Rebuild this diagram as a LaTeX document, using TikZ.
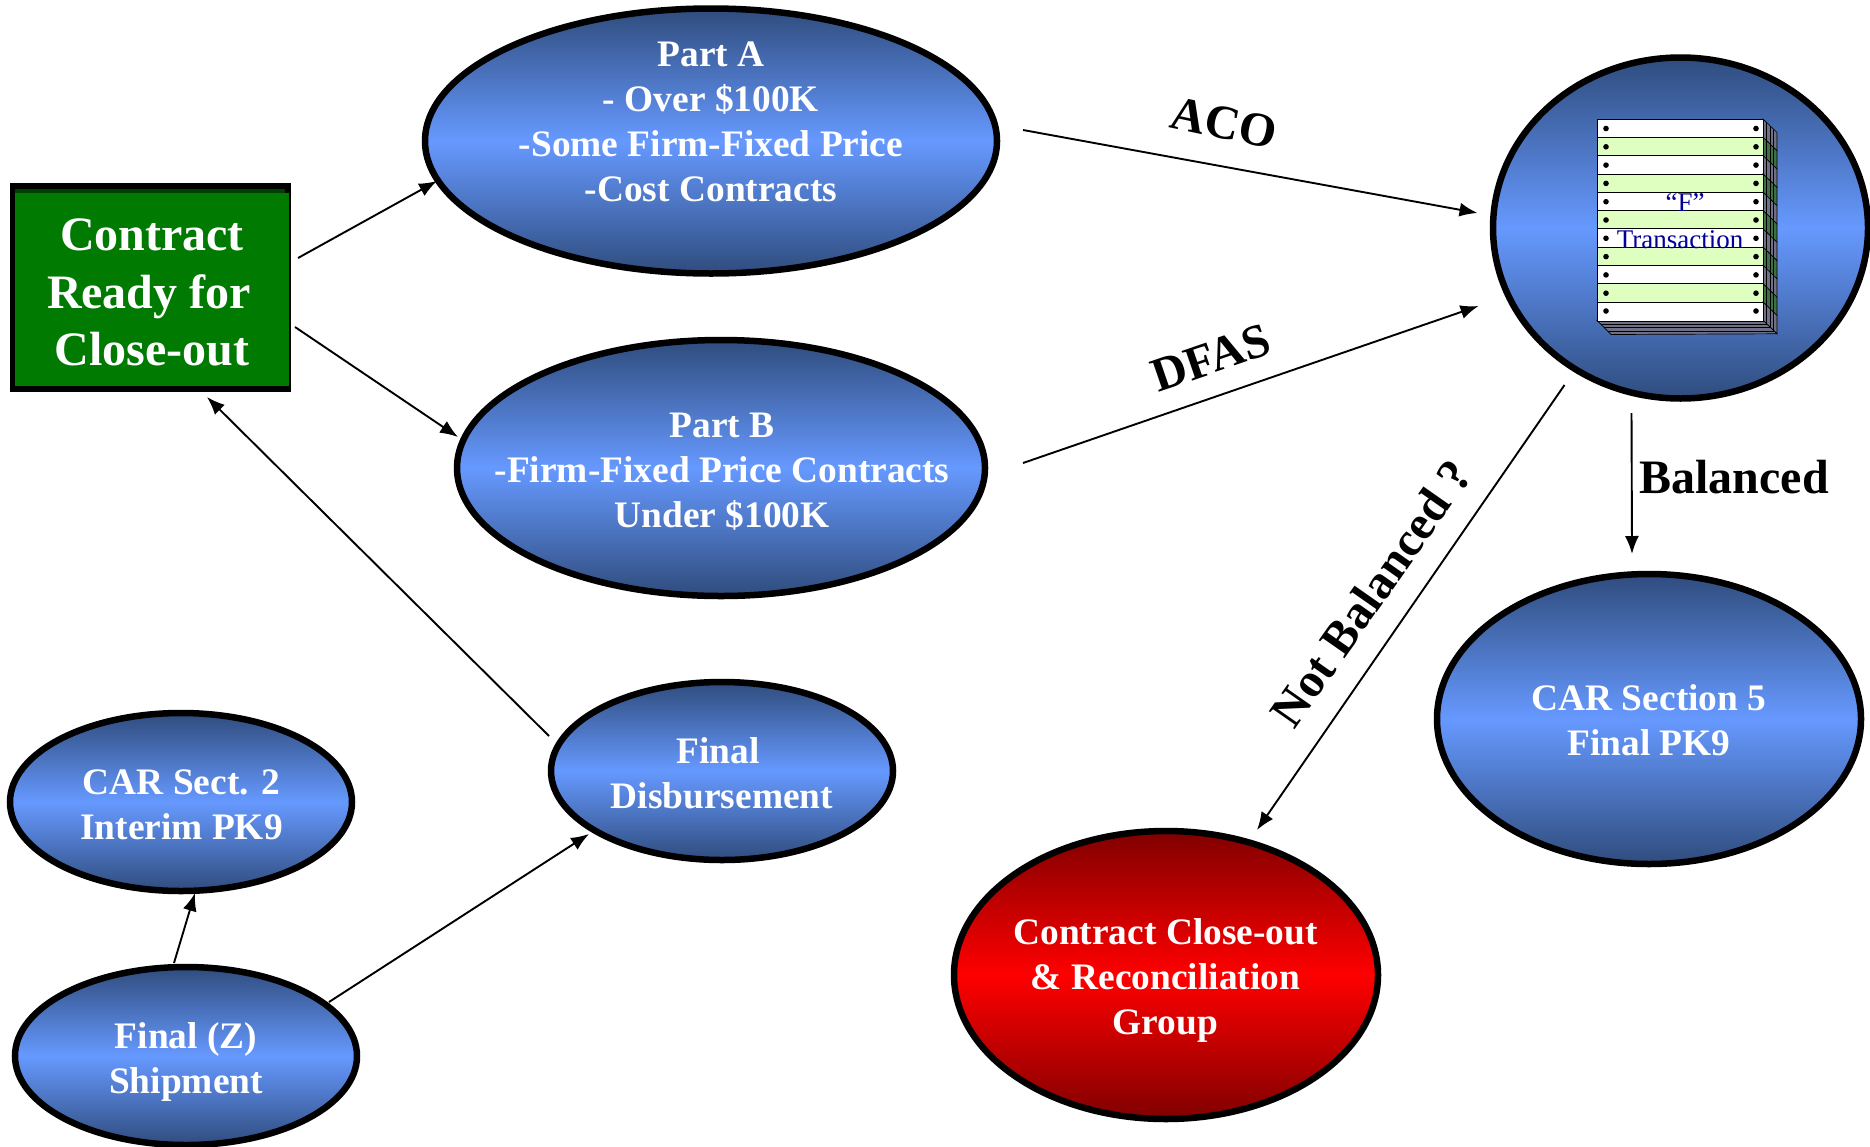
\documentclass[tikz,border=0pt]{standalone}
\usepackage{fontspec}
\setmainfont{Liberation Serif}
\usetikzlibrary{shapes.geometric,arrows.meta,calc}
\definecolor{ovalEdge}{HTML}{2F4C7D}
\definecolor{ovalMid}{HTML}{6699FF}
\definecolor{redEdge}{HTML}{800000}
\definecolor{boxGreen}{HTML}{007A00}
\definecolor{boxDark}{HTML}{004000}
\definecolor{paperGreen}{HTML}{DFFFC0}
\definecolor{sideGrey}{HTML}{6F6F85}
\definecolor{sideGreen}{HTML}{3F7045}
\definecolor{inkBlue}{HTML}{000099}
\tikzset{
 oval/.style={ellipse,draw=black,line width=6.5pt,inner sep=0pt,top color=ovalEdge,bottom color=ovalEdge,middle color=ovalMid},
 redoval/.style={oval,top color=redEdge,bottom color=redEdge,middle color=red},
 lbl/.style={text=white,align=center,inner sep=0pt,font=\fontsize{37.4}{45}\selectfont\bfseries},
 biglbl/.style={text=white,align=center,inner sep=0pt,font=\fontsize{48}{57.5}\selectfont\bfseries},
 edgelbl/.style={text=black,inner sep=0pt,font=\fontsize{48}{55}\selectfont\bfseries},
 conn/.style={draw=black,line width=1.9pt,-{Latex[length=18pt,width=14pt]}},
 tiny/.style={text=inkBlue,inner sep=0pt,font=\fontsize{27}{30}\selectfont},
}
\begin{document}
\begin{tikzpicture}[x=1pt,y=-1pt]
\useasboundingbox (0,0) rectangle (1870,1146);
\clip (0,0) rectangle (1870,1146);
% green box
\node[rectangle,draw=none,fill=black,minimum width=281pt,minimum height=209pt,inner sep=0pt] (green) at (150.5,287.5) {};
\fill[boxDark] (15,189) rectangle (285,194);
\fill[boxGreen] (15,193) rectangle (289,386);
\node[biglbl] (greentext) at (149,292.5) {\hspace*{6pt}Contract\\Ready for\hspace*{6pt}\\\hspace*{6pt}Close-out};
% ovals
\node[oval,minimum width=572pt,minimum height=265pt] (partA) at (711,141) {};
\node[lbl] (partAtext) at (711,121.5) {Part A\\- Over \$100K\\-Some Firm-Fixed Price\\-Cost Contracts};
\node[oval,minimum width=528pt,minimum height=256pt] (partB) at (721,468) {};
\node[lbl] (partBtext) at (722,471.5) {Part B\\-Firm-Fixed Price Contracts\\Under \$100K};
\node[oval,minimum width=375pt,minimum height=341pt] (ftrans) at (1680.5,228) {};
\node[oval,minimum width=424pt,minimum height=290pt] (sec5) at (1649,719) {};
\node[lbl] (sec5text) at (1649,720) {CAR Section 5\\Final PK9};
\node[redoval,minimum width=424pt,minimum height=288pt] (recon) at (1166,975) {};
\node[lbl] (recontext) at (1165.5,980) {Contract Close-out\\\&\ Reconciliation\\Group};
\node[oval,minimum width=342pt,minimum height=178pt] (disb) at (722,771) {};
\node[lbl] (disbtext) at (722,773) {Final\hspace*{8pt}\\Disbursement};
\node[oval,minimum width=342pt,minimum height=178pt] (sect2) at (181,802) {};
\node[lbl] (sect2text) at (181.5,804.5) {CAR Sect. 2\\Interim PK9};
\node[oval,minimum width=342pt,minimum height=178pt] (zship) at (186,1056) {};
\node[lbl] (zshiptext) at (186,1062) {Final (Z)\\Shipment};
% paper stack
\foreach \i in {0,...,10}{
  \pgfmathsetmacro{\ya}{119+\i*18.3}
  \pgfmathsetmacro{\yb}{\ya+18.3}
  \pgfmathtruncatemacro{\odd}{mod(\i,2)}
  \ifnum\odd=1
    \def\stripc{paperGreen}\def\sidec{sideGreen}
  \else
    \def\stripc{white}\def\sidec{sideGrey}
  \fi
  \filldraw[fill=\sidec,draw=black,line width=0.6pt] (1763,\ya) -- (1777,\ya+13.5) -- (1777,\yb+13.5) -- (1763,\yb) -- cycle;
  \filldraw[fill=\stripc,draw=black,line width=0.8pt] (1597,\ya) rectangle (1763,\yb);
  \fill[black] (1606,\ya+9.5) circle (2.8);
  \fill[black] (1756,\ya+9.5) circle (2.8);
}
\filldraw[fill=sideGrey,draw=black,line width=0.7pt] (1597,320.3) -- (1763,320.3) -- (1777,333.8) -- (1611,334.5) -- cycle;
\foreach \d in {3.5,7,10.5}{
  \draw[black,line width=0.5pt] (1597+\d,320.3+\d) -- (1763+\d,320.3+\d) -- (1763+\d,119+\d);
}
\filldraw[fill=white,draw=black,line width=0.8pt] (1597,302) rectangle (1763,321);
\fill[black] (1606,311) circle (2.8);
\fill[black] (1756,311) circle (2.8);
\node[tiny] (ftext) at (1685,203) {“F”};
\node[tiny] (ttext) at (1680,240) {Transaction};
% connectors
\draw[conn] ($(green)+(147.5,-29.5)$) -- ($(partA)+(-274,40)$);
\draw[conn] ($(green)+(144.5,39.5)$) -- ($(partB)+(-263,-31)$);
\draw[conn] ($(partA)+(312,-11)$) -- ($(ftrans)+(-203,-15)$);
\draw[conn] ($(partB)+(302,-5)$) -- ($(ftrans)+(-202,78)$);
\draw[conn] ($(ftrans)+(-116,157)$) -- ($(recon)+(91,-145)$);
\draw[conn] ($(ftrans)+(-49,185)$) -- ($(sec5)+(-17,-165)$);
\draw[conn] ($(disb)+(-173,-35)$) -- ($(green)+(56.5,109.5)$);
\draw[conn] ($(zship)+(-12,-93)$) -- ($(sect2)+(14,91)$);
\draw[conn] ($(zship)+(143,-54)$) -- ($(disb)+(-133,63)$);
% edge labels
\node[edgelbl,rotate=-12] (aco) at (1224,123) {ACO};
\node[edgelbl,rotate=19] (dfas) at (1211,358) {DFAS};
\node[edgelbl,rotate=55] (notbal) at (1371,593) {Not Balanced ?};
\node[edgelbl] (bal) at (1734,477) {Balanced};
\end{tikzpicture}
\end{document}
